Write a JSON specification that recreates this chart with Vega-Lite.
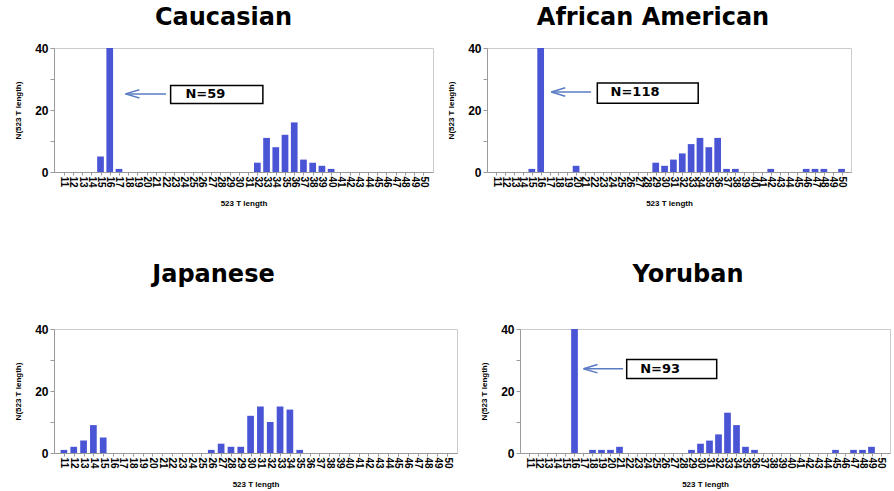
{
  "$schema": "https://vega.github.io/schema/vega-lite/v6.json",
  "padding": {"left": 14, "top": 5, "right": 0, "bottom": 0},
  "background": "white",
  "datasets": {
    "cau": [
      {"len": 15, "n": 5}, {"len": 16, "n": 59}, {"len": 17, "n": 1},
      {"len": 32, "n": 3}, {"len": 33, "n": 11}, {"len": 34, "n": 8}, {"len": 35, "n": 12},
      {"len": 36, "n": 16}, {"len": 37, "n": 4}, {"len": 38, "n": 3}, {"len": 39, "n": 2}, {"len": 40, "n": 1}
    ],
    "afr": [
      {"len": 15, "n": 1}, {"len": 16, "n": 118}, {"len": 20, "n": 2},
      {"len": 29, "n": 3}, {"len": 30, "n": 2}, {"len": 31, "n": 4}, {"len": 32, "n": 6}, {"len": 33, "n": 9},
      {"len": 34, "n": 11}, {"len": 35, "n": 8}, {"len": 36, "n": 11}, {"len": 37, "n": 1}, {"len": 38, "n": 1},
      {"len": 42, "n": 1}, {"len": 46, "n": 1}, {"len": 47, "n": 1}, {"len": 48, "n": 1}, {"len": 50, "n": 1}
    ],
    "jap": [
      {"len": 11, "n": 1}, {"len": 12, "n": 2}, {"len": 13, "n": 4}, {"len": 14, "n": 9}, {"len": 15, "n": 5},
      {"len": 26, "n": 1}, {"len": 27, "n": 3}, {"len": 28, "n": 2}, {"len": 29, "n": 2}, {"len": 30, "n": 12},
      {"len": 31, "n": 15}, {"len": 32, "n": 10}, {"len": 33, "n": 15}, {"len": 34, "n": 14}, {"len": 35, "n": 1}
    ],
    "yor": [
      {"len": 16, "n": 93}, {"len": 18, "n": 1}, {"len": 19, "n": 1}, {"len": 20, "n": 1}, {"len": 21, "n": 2},
      {"len": 29, "n": 1}, {"len": 30, "n": 3}, {"len": 31, "n": 4}, {"len": 32, "n": 6}, {"len": 33, "n": 13},
      {"len": 34, "n": 9}, {"len": 35, "n": 2}, {"len": 36, "n": 1},
      {"len": 45, "n": 1}, {"len": 47, "n": 1}, {"len": 48, "n": 1}, {"len": 49, "n": 2}
    ],
    "cauBox": [{"len": 22.6, "len2": 32.6, "n": 27.9, "n2": 22.1}],
    "cauText": [{"len": 24.2, "n": 25.2, "label": "N=59"}],
    "cauArrow": [{"len": 17.7, "len2": 22.1, "n": 25.2}],
    "afrBox": [{"len": 22.4, "len2": 33.8, "n": 28.7, "n2": 22.2}],
    "afrText": [{"len": 23.9, "n": 25.8, "label": "N=118"}],
    "afrArrow": [{"len": 17.2, "len2": 21.7, "n": 25.8}],
    "yorBox": [{"len": 21.8, "len2": 31.8, "n": 30.2, "n2": 24.0}],
    "yorText": [{"len": 23.3, "n": 27.2, "label": "N=93"}],
    "yorArrow": [{"len": 17.0, "len2": 21.4, "n": 27.2}]
  },
  "config": {
    "view": {"stroke": "#cccccc", "strokeWidth": 1},
    "axis": {
      "grid": false,
      "domainColor": "#9a9a9a",
      "tickColor": "#9a9a9a",
      "labelColor": "black",
      "titleColor": "black",
      "labelFont": "Liberation Sans",
      "titleFont": "Liberation Sans",
      "labelFontWeight": "bold",
      "titleFontWeight": "bold",
      "titleFontSize": 8
    },
    "axisX": {"labelAngle": 90, "labelFontSize": 10, "labelOverlap": false, "tickSize": 3, "labelPadding": 1, "titlePadding": 12, "labelFlush": false},
    "axisY": {"labelFontSize": 12, "tickSize": 4, "labelPadding": 2, "titlePadding": 12},
    "title": {"font": "DejaVu Sans", "fontSize": 24, "fontWeight": "bold", "color": "black"},
    "bar": {"color": "#4a55d6"}
  },
  "spacing": 54,
  "vconcat": [
    {
      "spacing": 13,
      "hconcat": [
        {
          "width": 379, "height": 124,
          "title": {"text": "Caucasian", "offset": 12, "dx": -20},
          "encoding": {
            "x": {"field": "len", "type": "quantitative", "scale": {"domain": [10.5, 50.5], "nice": false, "zero": false},
                  "axis": {"title": "523 T length", "values": [11,12,13,14,15,16,17,18,19,20,21,22,23,24,25,26,27,28,29,30,31,32,33,34,35,36,37,38,39,40,41,42,43,44,45,46,47,48,49,50]}},
            "y": {"field": "n", "type": "quantitative", "scale": {"domain": [0, 40], "nice": false},
                  "axis": {"title": "N(523 T length)", "values": [0, 10, 20, 30, 40], "labelExpr": "datum.value % 20 == 0 ? datum.label : ''"}}
          },
          "layer": [
            {"data": {"name": "cau"}, "mark": {"type": "bar", "width": 6.7, "clip": true}},
            {"data": {"name": "cauBox"}, "mark": {"type": "rect", "fill": "white", "stroke": "black", "strokeWidth": 1.5},
             "encoding": {"x2": {"field": "len2"}, "y2": {"field": "n2"}}},
            {"data": {"name": "cauText"}, "mark": {"type": "text", "align": "left", "baseline": "middle", "font": "DejaVu Sans", "fontWeight": "bold", "fontSize": 13, "color": "black"},
             "encoding": {"text": {"field": "label"}}},
            {"data": {"name": "cauArrow"}, "mark": {"type": "rule", "color": "#5b7cc2", "strokeWidth": 1.5},
             "encoding": {"x2": {"field": "len2"}}},
            {"data": {"name": "cauArrow"}, "mark": {"type": "point", "shape": "M0,0L2,-0.6M0,0L2,0.6", "size": 196, "filled": false, "stroke": "#5b7cc2", "strokeWidth": 1.5, "opacity": 1}}
          ]
        },
        {
          "width": 364, "height": 124,
          "title": {"text": "African American", "offset": 12, "dx": -16},
          "encoding": {
            "x": {"field": "len", "type": "quantitative", "scale": {"domain": [10.5, 50.5], "nice": false, "zero": false},
                  "axis": {"title": "523 T length", "values": [11,12,13,14,15,16,17,18,19,20,21,22,23,24,25,26,27,28,29,30,31,32,33,34,35,36,37,38,39,40,41,42,43,44,45,46,47,48,49,50]}},
            "y": {"field": "n", "type": "quantitative", "scale": {"domain": [0, 40], "nice": false},
                  "axis": {"title": "N(523 T length)", "values": [0, 10, 20, 30, 40], "labelExpr": "datum.value % 20 == 0 ? datum.label : ''"}}
          },
          "layer": [
            {"data": {"name": "afr"}, "mark": {"type": "bar", "width": 6.7, "clip": true}},
            {"data": {"name": "afrBox"}, "mark": {"type": "rect", "fill": "white", "stroke": "black", "strokeWidth": 1.5},
             "encoding": {"x2": {"field": "len2"}, "y2": {"field": "n2"}}},
            {"data": {"name": "afrText"}, "mark": {"type": "text", "align": "left", "baseline": "middle", "font": "DejaVu Sans", "fontWeight": "bold", "fontSize": 13, "color": "black"},
             "encoding": {"text": {"field": "label"}}},
            {"data": {"name": "afrArrow"}, "mark": {"type": "rule", "color": "#5b7cc2", "strokeWidth": 1.5},
             "encoding": {"x2": {"field": "len2"}}},
            {"data": {"name": "afrArrow"}, "mark": {"type": "point", "shape": "M0,0L2,-0.6M0,0L2,0.6", "size": 196, "filled": false, "stroke": "#5b7cc2", "strokeWidth": 1.5, "opacity": 1}}
          ]
        }
      ]
    },
    {
      "spacing": 22,
      "hconcat": [
        {
          "width": 403, "height": 124,
          "title": {"text": "Japanese", "offset": 36, "dx": -42},
          "encoding": {
            "x": {"field": "len", "type": "quantitative", "scale": {"domain": [10.5, 50.5], "nice": false, "zero": false},
                  "axis": {"title": "523 T length", "values": [11,12,13,14,15,16,17,18,19,20,21,22,23,24,25,26,27,28,29,30,31,32,33,34,35,36,37,38,39,40,41,42,43,44,45,46,47,48,49,50]}},
            "y": {"field": "n", "type": "quantitative", "scale": {"domain": [0, 40], "nice": false},
                  "axis": {"title": "N(523 T length)", "values": [0, 10, 20, 30, 40], "labelExpr": "datum.value % 20 == 0 ? datum.label : ''"}}
          },
          "layer": [
            {"data": {"name": "jap"}, "mark": {"type": "bar", "width": 6.7, "clip": true}}
          ]
        },
        {
          "width": 370, "height": 124,
          "title": {"text": "Yoruban", "offset": 36, "dx": -17},
          "encoding": {
            "x": {"field": "len", "type": "quantitative", "scale": {"domain": [10.5, 50.5], "nice": false, "zero": false},
                  "axis": {"title": "523 T length", "values": [11,12,13,14,15,16,17,18,19,20,21,22,23,24,25,26,27,28,29,30,31,32,33,34,35,36,37,38,39,40,41,42,43,44,45,46,47,48,49,50]}},
            "y": {"field": "n", "type": "quantitative", "scale": {"domain": [0, 40], "nice": false},
                  "axis": {"title": "N(523 T length)", "values": [0, 10, 20, 30, 40], "labelExpr": "datum.value % 20 == 0 ? datum.label : ''"}}
          },
          "layer": [
            {"data": {"name": "yor"}, "mark": {"type": "bar", "width": 6.7, "clip": true}},
            {"data": {"name": "yorBox"}, "mark": {"type": "rect", "fill": "white", "stroke": "black", "strokeWidth": 1.5},
             "encoding": {"x2": {"field": "len2"}, "y2": {"field": "n2"}}},
            {"data": {"name": "yorText"}, "mark": {"type": "text", "align": "left", "baseline": "middle", "font": "DejaVu Sans", "fontWeight": "bold", "fontSize": 13, "color": "black"},
             "encoding": {"text": {"field": "label"}}},
            {"data": {"name": "yorArrow"}, "mark": {"type": "rule", "color": "#5b7cc2", "strokeWidth": 1.5},
             "encoding": {"x2": {"field": "len2"}}},
            {"data": {"name": "yorArrow"}, "mark": {"type": "point", "shape": "M0,0L2,-0.6M0,0L2,0.6", "size": 196, "filled": false, "stroke": "#5b7cc2", "strokeWidth": 1.5, "opacity": 1}}
          ]
        }
      ]
    }
  ]
}
